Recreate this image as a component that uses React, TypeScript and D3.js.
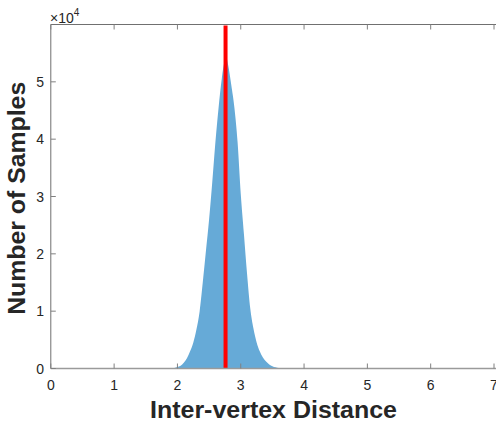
import React from "react";
import * as d3 from "d3";

// Histogram outline (bin centre, count)
const distX = [1.85, 1.9, 1.95, 2.0, 2.05, 2.1, 2.15, 2.2, 2.25, 2.3, 2.35, 2.4, 2.45, 2.5, 2.55, 2.6, 2.65, 2.7, 2.75, 2.77, 2.8, 2.85, 2.9, 2.95, 3.0, 3.05, 3.1, 3.15, 3.2, 3.25, 3.3, 3.35, 3.4, 3.45, 3.5, 3.55, 3.6, 3.65, 3.7];
const distCount = [0, 50, 100, 250, 500, 1000, 1800, 3000, 4500, 6800, 9900, 15000, 20500, 26000, 32500, 39500, 45500, 50500, 53800, 54300, 53000, 49500, 45500, 39500, 30500, 23500, 16500, 10500, 7000, 4600, 3000, 1900, 1200, 700, 400, 200, 80, 30, 0];
const meanDistance = 2.76;
const xTicks = [0, 1, 2, 3, 4, 5, 6, 7];
const yTicks = [0, 1, 2, 3, 4, 5];
const xTitle = "Inter-vertex Distance";
const yTitle = "Number of Samples";

const W = 496, H = 426;
const left = 50.8, right = 494, top = 24.5, bottom = 368.5;
const FONT = "'Liberation Sans', Arial, Helvetica, sans-serif";

export default function App() {
  const x = d3.scaleLinear().domain([0, 7]).range([left, right]);
  const y = d3.scaleLinear().domain([0, 6e4]).range([bottom, top]);
  const pts = distX.map((v, i) => [v, distCount[i]] as [number, number]);
  const area = d3.area<[number, number]>()
    .x(d => x(d[0]))
    .y0(y(0))
    .y1(d => y(d[1]))
    .curve(d3.curveMonotoneX)(pts) as string;
  const axisColor = "#808080";
  const tickColor = "#262626";
  return (
    <svg width={W} height={H} style={{ position: "absolute", left: 0, top: 0, background: "#fff" }}>
      <path d={area} fill="#66AAD7" stroke="none" />
      <line x1={x(meanDistance)} x2={x(meanDistance)} y1={y(0)} y2={y(6e4) + 1} stroke="#FF0000" strokeWidth={4} />
      {/* box */}
      <line x1={left} x2={W} y1={top} y2={top} stroke="#707070" strokeWidth={1} />
      <line x1={left} x2={left} y1={top} y2={bottom} stroke="#707070" strokeWidth={1} />
      <line x1={left} x2={W} y1={bottom} y2={bottom} stroke="#9a9a9a" strokeWidth={1.6} />
      {xTicks.map(t => (
        <g key={"x" + t}>
          <line x1={x(t)} x2={x(t)} y1={bottom} y2={bottom - 5} stroke={axisColor} />
          <line x1={x(t)} x2={x(t)} y1={top} y2={top + 5} stroke={axisColor} />
          <text x={x(t)} y={390} fontFamily={FONT} fontSize={14} fill={tickColor} textAnchor="middle">{t}</text>
        </g>
      ))}
      {yTicks.map(t => (
        <g key={"y" + t}>
          <line x1={left} x2={left + 5} y1={y(t * 1e4)} y2={y(t * 1e4)} stroke={axisColor} />
          <text x={44} y={y(t * 1e4) + 5} fontFamily={FONT} fontSize={14} fill={tickColor} textAnchor="end">{t}</text>
        </g>
      ))}
      <text x={50} y={22.5} fontFamily={FONT} fontSize={14} fill={tickColor}>
        ×10<tspan dy={-7} fontSize={10}>4</tspan>
      </text>
      <text x={273.5} y={418} fontFamily={FONT} fontSize={23} fontWeight="bold" fill="#262626" textAnchor="middle" textLength={247} lengthAdjust="spacingAndGlyphs">{xTitle}</text>
      <text transform={`translate(25,198.3) rotate(-90)`} fontFamily={FONT} fontSize={23} fontWeight="bold" fill="#262626" textAnchor="middle" textLength={233} lengthAdjust="spacingAndGlyphs">{yTitle}</text>
    </svg>
  );
}
